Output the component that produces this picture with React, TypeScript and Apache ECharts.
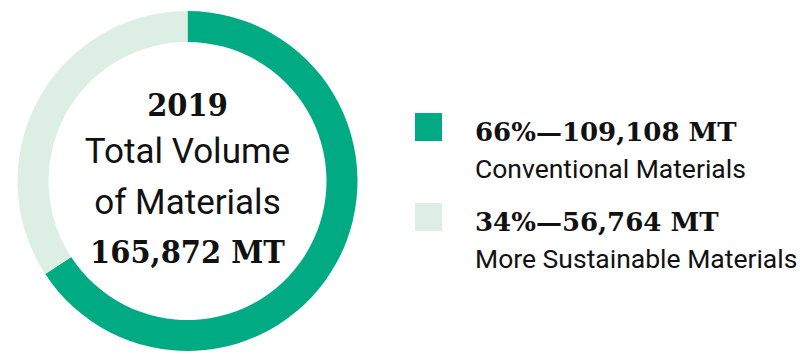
import React, { useEffect, useRef } from "react";
import * as echarts from "echarts";

const categories = ["Conventional Materials", "More Sustainable Materials"];
const values = [109108, 56764];
const percents = ["66%", "34%"];
const amountLabels = ["109,108 MT", "56,764 MT"];
const colors = ["#00ab84", "#ddefe5"];
const centerYear = "2019";
const centerLines = ["Total Volume", "of Materials"];
const totalLabel = "165,872 MT";

const SERIF = "'DejaVu Serif', serif";
const SANS = "Roboto, 'Liberation Sans', sans-serif";

export default function App() {
  const ref = useRef<HTMLDivElement>(null);
  useEffect(() => {
    if (!ref.current) return;
    const chart = echarts.init(ref.current, undefined, { renderer: "svg" });
    const legendEls: any[] = [];
    categories.forEach((c, i) => {
      const y0 = 113 + i * 90;
      legendEls.push({
        type: "rect",
        shape: { x: 415, y: y0, width: 27, height: 28 },
        style: { fill: colors[i] },
      });
      legendEls.push({
        type: "text",
        x: 475,
        y: y0 + 19,
        style: {
          text: `${percents[i]}—${amountLabels[i]}`,
          font: `bold 26px ${SERIF}`,
          fill: "#111",
          verticalAlign: "middle",
          align: "left",
        },
      });
      legendEls.push({
        type: "text",
        x: 475,
        y: y0 + 55.5,
        style: {
          text: c,
          font: `26.5px ${SANS}`,
          fill: "#111",
          verticalAlign: "middle",
          align: "left",
        },
      });
    });
    const cx = 187.5;
    const centerEls: any[] = [
      {
        type: "text",
        x: cx,
        y: 104,
        scaleY: 1.1,
        style: { text: centerYear, font: `bold 29px ${SERIF}`, fill: "#111", align: "center", verticalAlign: "middle" },
      },
      ...centerLines.map((t, i) => ({
        type: "text",
        x: cx,
        y: 151 + i * 51,
        style: { text: t, font: `35px ${SANS}`, fill: "#111", align: "center", verticalAlign: "middle" },
      })),
      {
        type: "text",
        x: cx,
        y: 251,
        scaleY: 1.1,
        style: { text: totalLabel, font: `bold 29px ${SERIF}`, fill: "#111", align: "center", verticalAlign: "middle" },
      },
    ];
    chart.setOption({
      animation: false,
      series: [
        {
          type: "pie",
          center: [cx, 181],
          radius: [139, 170],
          startAngle: 90,
          clockwise: true,
          label: { show: false },
          labelLine: { show: false },
          emphasis: { disabled: true },
          itemStyle: { borderWidth: 0 },
          data: categories.map((c, i) => ({ name: c, value: values[i], itemStyle: { color: colors[i] } })),
        },
      ],
      graphic: [...centerEls, ...legendEls],
    });
    return () => chart.dispose();
  }, []);
  return <div ref={ref} style={{ width: 800, height: 354, position: "absolute", left: 0, top: 0 }} />;
}
